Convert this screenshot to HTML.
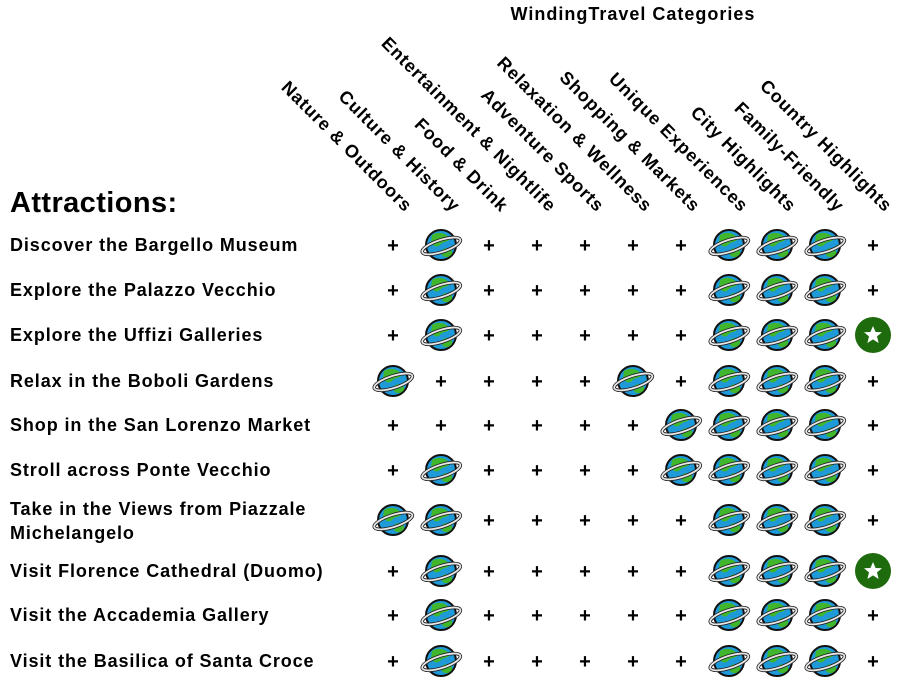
<!DOCTYPE html>
<html><head><meta charset="utf-8"><style>
html,body{margin:0;padding:0;background:#fff;}
svg{display:block;font-family:"Liberation Sans",Arial,sans-serif;}
</style></head><body>
<svg width="912" height="681" viewBox="0 0 912 681" xmlns="http://www.w3.org/2000/svg">
<defs>
<g id="g">
 <circle cx="0" cy="0" r="15" fill="#1e9ad8" stroke="#111" stroke-width="2"/>
 <path d="M-9,-10 C-3,-14 6,-12 9,-6 C6,-2 2,-4 -1,0 C-4,3 -8,1 -10,-3 Z" fill="#3fb62c"/>
 <path d="M2,4 C7,2 12,4 11,9 C8,13 3,13 1,10 Z" fill="#3fb62c"/>
 <ellipse cx="0" cy="1" rx="20" ry="6" transform="rotate(-18)" fill="none" stroke="#222" stroke-width="3.5"/>
 <ellipse cx="0" cy="1" rx="20" ry="6" transform="rotate(-18)" fill="none" stroke="#e8e8e8" stroke-width="1.8"/>
</g>
<g id="s">
 <circle cx="0" cy="0" r="18" fill="#1e6b0e"/>
 <polygon points="0,-9 2.6,-3 9,-2.8 4,1.4 5.6,8 0,4.4 -5.6,8 -4,1.4 -9,-2.8 -2.6,-3" fill="#fff"/>
</g>
</defs>
<text x="633" y="20" text-anchor="middle" font-size="18" font-weight="bold" letter-spacing="1">WindingTravel Categories</text>
<text x="10" y="212" font-size="29" font-weight="bold" letter-spacing="0.4">Attractions:</text>
<g font-size="18" font-weight="bold" text-anchor="end" letter-spacing="0.9">
<text transform="translate(405,213) rotate(45)">Nature &amp; Outdoors</text>
<text transform="translate(453,213) rotate(45)">Culture &amp; History</text>
<text transform="translate(501,213) rotate(45)">Food &amp; Drink</text>
<text transform="translate(549,213) rotate(45)">Entertainment &amp; Nightlife</text>
<text transform="translate(597,213) rotate(45)">Adventure Sports</text>
<text transform="translate(645,213) rotate(45)">Relaxation &amp; Wellness</text>
<text transform="translate(693,213) rotate(45)">Shopping &amp; Markets</text>
<text transform="translate(741,213) rotate(45)">Unique Experiences</text>
<text transform="translate(789,213) rotate(45)">City Highlights</text>
<text transform="translate(837,213) rotate(45)">Family-Friendly</text>
<text transform="translate(885,213) rotate(45)">Country Highlights</text>
</g>
<g font-size="18" font-weight="bold" letter-spacing="0.9">
<text x="10" y="251">Discover the Bargello Museum</text>
<text x="10" y="296">Explore the Palazzo Vecchio</text>
<text x="10" y="341">Explore the Uffizi Galleries</text>
<text x="10" y="387">Relax in the Boboli Gardens</text>
<text x="10" y="431">Shop in the San Lorenzo Market</text>
<text x="10" y="476">Stroll across Ponte Vecchio</text>
<text x="10" y="515">Take in the Views from Piazzale</text>
<text x="10" y="539">Michelangelo</text>
<text x="10" y="577">Visit Florence Cathedral (Duomo)</text>
<text x="10" y="621">Visit the Accademia Gallery</text>
<text x="10" y="667">Visit the Basilica of Santa Croce</text>
</g>
<g id="cells" font-size="20" font-weight="bold" text-anchor="middle"></g>
<script>
var rows=[245,290,335,381,425,470,520,571,615,661];
var d=["+G+++++GGG+","+G+++++GGG+","+G+++++GGGS","G++++G+GGG+","++++++GGGG+","+G++++GGGG+","GG+++++GGG+","+G+++++GGGS","+G+++++GGG+","+G+++++GGG+"];
var ns="http://www.w3.org/2000/svg",c=document.getElementById("cells");
for(var r=0;r<10;r++)for(var k=0;k<11;k++){var x=393+48*k,y=rows[r],ch=d[r][k],e;
if(ch=="+"){e=document.createElementNS(ns,"text");e.setAttribute("x",x);e.setAttribute("y",y+7);e.textContent="+";}
else{e=document.createElementNS(ns,"use");e.setAttribute("href",ch=="G"?"#g":"#s");e.setAttribute("transform","translate("+x+","+y+")");}
c.appendChild(e);}
</script>
</svg>
</body></html>
